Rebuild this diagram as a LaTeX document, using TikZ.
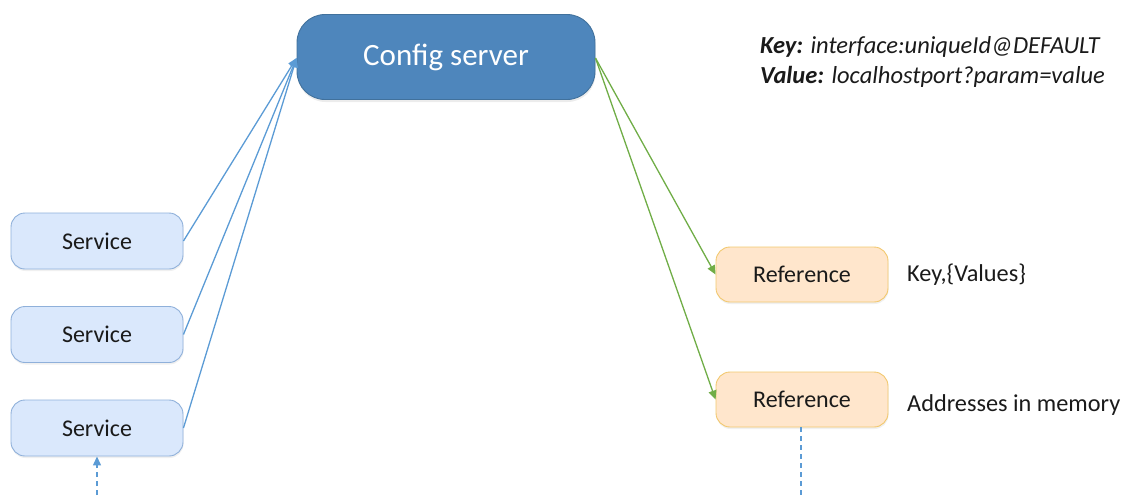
\documentclass[tikz,border=0pt]{standalone}
\usepackage{fontspec}
\setmainfont{Carlito}
\usetikzlibrary{arrows.meta,shadows}
\definecolor{srvfill}{HTML}{4E86BC}
\definecolor{srvline}{HTML}{41719C}
\definecolor{svcfill}{HTML}{DAE8FC}
\definecolor{svcline}{HTML}{8FB0DA}
\definecolor{reffill}{HTML}{FFE6CC}
\definecolor{refline}{HTML}{F2C86E}
\definecolor{bluelink}{HTML}{5B9BD5}
\definecolor{greenlink}{HTML}{70AD47}
\definecolor{txt}{HTML}{1A1A1A}
\tikzset{
  box/.style={rectangle, rounded corners=14pt, line width=0.9pt, text=txt,
    font=\fontsize{24}{28}\selectfont, minimum width=172pt, minimum height=56pt,
    drop shadow={opacity=0.12, shadow xshift=0.5pt, shadow yshift=-2pt}},
  svc/.style={box, fill=svcfill, draw=svcline},
  refbox/.style={box, fill=reffill, draw=refline, minimum height=55pt},
  server/.style={rectangle, rounded corners=28pt, fill=srvfill, draw=srvline,
    line width=0.9pt, text=white, font=\fontsize{31}{36}\selectfont,
    minimum width=298pt, minimum height=85pt,
    drop shadow={opacity=0.15, shadow xshift=0.5pt, shadow yshift=-2.5pt}},
  tip/.style={-{Triangle[length=9pt,width=8pt]}},
  bluearrow/.style={tip, draw=bluelink, line width=1.3pt},
  greenarrow/.style={tip, draw=greenlink, line width=1.3pt},
  note/.style={anchor=west, text=txt, font=\fontsize{24.3}{28}\selectfont, inner sep=0pt},
  keyline/.style={anchor=west, text=txt, font=\fontsize{24.5}{28}\selectfont\itshape, inner sep=0pt}
}
\begin{document}
\begin{tikzpicture}[x=1pt,y=-1pt]
\useasboundingbox (0,0) rectangle (1127,499);

% central server
\node[server] (cfg) at (446,57) {Config server};

% providers on the left
\node[svc] (s1) at (97,241) {Service};
\node[svc] (s2) at (97,334.5) {Service};
\node[svc] (s3) at (97,428) {Service};

% consumers on the right
\node[refbox] (r1) at (802,274.5) {Reference};
\node[refbox] (r2) at (802,399.5) {Reference};

% annotations
\node[keyline] (k1) at (760,47) {\textbf{Key:} interface:uniqueId@DEFAULT};
\node[keyline] (k2) at (760,77) {\textbf{Value:} localhostport?param=value};
\node[note] (n1) at (907,274.5) {Key,\{Values\}};
\node[note] (n2) at (907,405) {Addresses in memory};

% registration links
\coordinate (cin) at ([yshift=-1pt]cfg.west);
\draw[bluearrow] (s1.east) -- (cin);
\draw[bluearrow] (s2.east) -- (cin);
\draw[bluearrow] (s3.east) -- (cin);

% subscription links
\coordinate (cout) at ([yshift=-1pt]cfg.east);
\draw[greenarrow] (cout) -- (r1.west);
\draw[greenarrow] (cout) -- (r2.west);

% dashed stubs
\coordinate (sin) at (97,495);
\draw[bluearrow, dash pattern=on 5pt off 4pt] (sin) -- (s3.south);
\coordinate (rout) at (801,499);
\draw[draw=bluelink, line width=1.3pt, dash pattern=on 5pt off 4pt] (r2.south -| rout) -- (rout);
\end{tikzpicture}
\end{document}
